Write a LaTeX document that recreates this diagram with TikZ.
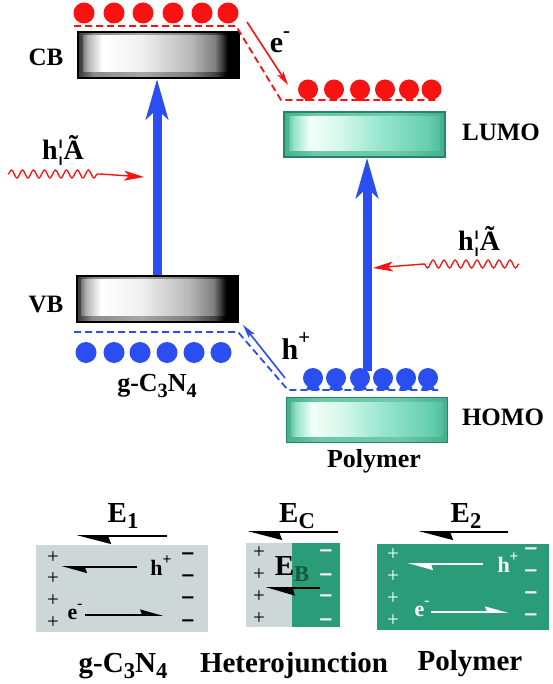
\documentclass[tikz,border=0pt]{standalone}
\usepackage{fontspec}
\usepackage{graphicx}
\setmainfont{Liberation Serif}
\newfontfamily\djv{DejaVu Sans}
\usetikzlibrary{arrows.meta,decorations.pathmorphing,calc}
\definecolor{myred}{RGB}{248,18,18}
\definecolor{myblue}{RGB}{42,78,240}
\definecolor{panelteal}{RGB}{42,157,120}
\definecolor{tealdark}{RGB}{34,135,104}
\definecolor{panelgrey}{RGB}{206,215,215}
\definecolor{ebgreen}{RGB}{20,90,65}
\definecolor{tA}{RGB}{62,170,138}
\definecolor{tB}{RGB}{150,226,200}
\definecolor{tC}{RGB}{242,255,250}
\definecolor{tD}{RGB}{215,248,236}
\definecolor{tE}{RGB}{150,230,205}
\definecolor{tF}{RGB}{100,206,172}
\definecolor{tG}{RGB}{72,182,148}
\definecolor{tO}{RGB}{70,175,142}
\definecolor{tO2}{RGB}{110,200,170}
\pgfdeclarehorizontalshading{cbshade}{100bp}{color(0bp)=(black!75); color(25bp)=(black!75); color(28bp)=(black!30); color(32.5bp)=(white); color(45bp)=(black!6); color(60bp)=(black!28); color(67.5bp)=(black!50); color(70bp)=(black!80); color(71.5bp)=(black); color(75bp)=(black); color(100bp)=(black)}
\pgfdeclarehorizontalshading{cbouter}{100bp}{color(0bp)=(black!80); color(25bp)=(black!80); color(30bp)=(black!45); color(45bp)=(black!35); color(60bp)=(black!50); color(68bp)=(black!75); color(71bp)=(black); color(75bp)=(black); color(100bp)=(black)}
\pgfdeclarehorizontalshading{tealshade}{100bp}{color(0bp)=(tA); color(25bp)=(tA); color(28bp)=(tB); color(33bp)=(tC); color(42bp)=(tD); color(55bp)=(tE); color(70bp)=(tF); color(75bp)=(tG); color(100bp)=(tG)}
\pgfdeclarehorizontalshading{tealouter}{100bp}{color(0bp)=(tO); color(25bp)=(tO); color(35bp)=(tO2); color(60bp)=(tO2); color(75bp)=(tO); color(100bp)=(tO)}
\newcommand{\lowr}[1]{\raisebox{-0.22em}{\scalebox{0.78}{#1}}}
\newcommand{\upr}[1]{\raisebox{0.5em}{\scalebox{0.7}{#1}}}
\begin{document}
\begin{tikzpicture}[x=1pt,y=-1pt,
  lbl/.style={font=\fontsize{25}{25}\selectfont\bfseries, inner sep=0pt},
  biglbl/.style={font=\fontsize{30}{30}\selectfont\bfseries, inner sep=0pt},
  botlbl/.style={font=\fontsize{29}{29}\selectfont\bfseries, inner sep=0pt},
  hvlbl/.style={font=\fontsize{28}{28}\selectfont\bfseries, inner sep=0pt},
  smlbl/.style={font=\fontsize{22}{22}\selectfont\bfseries, inner sep=0pt},
  plus/.style={font=\fontsize{21}{21}\selectfont, inner sep=0pt},
  minus/.style={font=\fontsize{18}{18}\selectfont\djv\bfseries, inner sep=0pt},
  cbbox/.style={rectangle, minimum width=161pt, minimum height=46pt, inner sep=0pt,
    shading=cbouter, draw=black, line width=2pt,
    path picture={\shade[shading=cbshade] ([shift={(5pt,-4pt)}]path picture bounding box.north west) rectangle ([shift={(-4pt,6pt)}]path picture bounding box.south east);}},
  tealbox/.style={rectangle, minimum width=161pt, minimum height=45pt, inner sep=0pt,
    shading=tealouter, draw=tealdark, line width=1.5pt,
    path picture={\shade[shading=tealshade] ([shift={(5pt,-5pt)}]path picture bounding box.north west) rectangle ([shift={(-5pt,6pt)}]path picture bounding box.south east);}},
  redball/.style={circle, fill=myred, minimum size=21pt, inner sep=0pt},
  blueball/.style={circle, fill=myblue, minimum size=21pt, inner sep=0pt},
  reddash/.style={myred, line width=1.8pt, dash pattern=on 7pt off 4pt},
  bluedash/.style={myblue, line width=1.8pt, dash pattern=on 7pt off 4pt},
  bigarrow/.style={myblue, line width=9pt, -{Stealth[length=40pt,width=22pt,inset=10pt]}},
  thinarrow/.style={line width=1.6pt, -{Stealth[length=14pt,width=7pt,inset=3pt]}},
  wave/.style={myred, line width=1.3pt, decorate, decoration={snake, segment length=11pt, amplitude=4pt}},
  hvarrow/.style={myred, line width=1.4pt, -{Stealth[length=20pt,width=10pt,inset=5pt]}},
  panel/.style={rectangle, inner sep=0pt},
  fieldarrow/.style={line width=1.6pt, -{Stealth[harpoon,length=31pt,width=16pt,inset=3pt]}},
  inarrow/.style={line width=1.6pt, -{Stealth[harpoon,length=22pt,width=12pt,inset=2pt]}}
]
\useasboundingbox[fill=white] (0,0) rectangle (552,684);

% ---------- energy levels ----------
\node[cbbox] (CB) at (158.5,55) {};
\node[cbbox] (VB) at (157,298.5) {};
\node[tealbox] (LUMO) at (364.5,134.5) {};
\node[tealbox] (HOMO) at (367,420) {};

\node[lbl] (CBl) at (46,57) {CB};
\node[lbl] (VBl) at (46,305) {VB};
\node[lbl] (LUMOl) at (501,132) {LUMO};
\node[lbl] (HOMOl) at (503,417) {HOMO};
\node[lbl, font=\fontsize{26}{26}\selectfont\bfseries] (gcn1) at (157,386) {g-C\lowr{3}N\lowr{4}};
\node[lbl, font=\fontsize{26}{26}\selectfont\bfseries] (poly1) at (374,461) {Polymer};

% dashed levels
\draw[reddash] (74,26) -- (236,26) -- (281,100) -- (436,100);
\draw[bluedash] (74,332) -- (238,332) -- (288,390) -- (438,390);

% electrons
\foreach \x [count=\i] in {84,114,143,173,202,228}
  \node[redball] (rt\i) at (\x,13) {};
\foreach \x [count=\i] in {308,334,360,385,409,431.5}{
  \fill[myred] (\x-3,95) rectangle (\x+3,101);
  \node[redball, minimum size=20pt] (rl\i) at (\x,89.5) {};
}
% transfer arrows
\coordinate (eS) at (247,22);
\coordinate (eE) at (288,85);
\draw[thinarrow, myred] (eS) -- (eE);
\node[biglbl] (elab) at (280,42) {e\upr{-}};

% excitation arrows
\draw[bigarrow] (VB.north) -- (VB.north |- CB.south);
\coordinate (a2) at (367,371);
\draw[bigarrow] (a2) -- (a2 |- LUMO.south);

% holes
\foreach \x [count=\i] in {86,114,140,167,194,221}
  \node[blueball] (bv\i) at (\x,352.5) {};
\foreach \x [count=\i] in {313,336,360,383,406,428}{
  \fill[myblue] (\x-7,390) -- (\x-4,383) -- (\x+4,383) -- (\x+7,390) -- cycle;
  \node[blueball, minimum size=20pt] (bh\i) at (\x,378) {};
}
\coordinate (hS) at (285,378);
\coordinate (hE) at (243,325);
\draw[thinarrow, myblue] (hS) -- (hE);
\node[biglbl] (hlab) at (296,346) {h\upr{+}};

% light
\coordinate (w1a) at (8,174);
\coordinate (w1b) at (100,174);
\coordinate (w1c) at (144,177);
\draw[wave] (w1a) -- (w1b);
\draw[hvarrow] (w1b) -- (w1c);
\node[hvlbl] (hv1) at (63,150) {h¦Ã};
\coordinate (w2a) at (519,264);
\coordinate (w2b) at (424,264);
\coordinate (w2c) at (373,268);
\draw[wave] (w2a) -- (w2b);
\draw[hvarrow] (w2b) -- (w2c);
\node[hvlbl] (hv2) at (479,241) {h¦Ã};

% ---------- bottom panels ----------
\node[panel, fill=panelgrey, minimum width=172pt, minimum height=87pt] (P1) at (122,588.5) {};
\node[panel, fill=panelgrey, minimum width=46pt, minimum height=84pt] (P2a) at (269,585) {};
\node[panel, fill=panelteal, minimum width=48pt, minimum height=84pt] (P2b) at (316,585) {};
\node[panel, fill=panelteal, minimum width=172pt, minimum height=86pt] (P3) at (463,587) {};

% field arrows
\coordinate (E1s) at (167,536); \coordinate (E1e) at (77,536);
\draw[fieldarrow] (E1s) -- (E1e);
\node[botlbl] (E1) at (123,516) {E\lowr{1}};
\coordinate (ECs) at (338,532); \coordinate (ECe) at (248,532);
\draw[fieldarrow] (ECs) -- (ECe);
\node[botlbl] (EC) at (297,516) {E\lowr{C}};
\coordinate (E2s) at (508,532); \coordinate (E2e) at (419,532);
\draw[fieldarrow] (E2s) -- (E2e);
\node[botlbl] (E2) at (466,516) {E\lowr{2}};

% panel 1 contents
\foreach \y [count=\i] in {558,579,601,623} \node[plus] (p1p\i) at (53,\y) {+};
\foreach \y [count=\i] in {556,578,600,623} \node[minus] (p1m\i) at (188,\y) {−};
\coordinate (h1s) at (137,567); \coordinate (h1e) at (62,567);
\draw[inarrow] (h1s) -- (h1e);
\node[smlbl] (h1) at (161,566) {h\upr{+}};
\coordinate (e1s) at (85,615); \coordinate (e1e) at (163,615);
\draw[inarrow, -{Stealth[harpoon,length=20pt,width=11pt,inset=2pt]}] (e1s) -- (e1e);
\node[smlbl] (e1) at (75,612) {e\upr{-}};

% panel 2 contents
\foreach \y [count=\i] in {553,575,597,619} \node[plus] (p2p\i) at (259,\y) {+};
\foreach \y [count=\i] in {553,577,598,622} \node[minus, white] (p2m\i) at (326,\y) {−};
\node[botlbl] (EB) at (292,569) {E\lowr{\color{ebgreen}B}};
\coordinate (EBs) at (320,588); \coordinate (EBe) at (266,588);
\draw[inarrow, -{Stealth[harpoon,length=26pt,width=15pt,inset=2pt]}] (EBs) -- (EBe);

% panel 3 contents
\foreach \y [count=\i] in {555,577,599,621} \node[plus, white] (p3p\i) at (393,\y) {+};
\foreach \y [count=\i] in {551,573,595,617} \node[minus, white] (p3m\i) at (531,\y) {−};
\coordinate (h3s) at (483,564); \coordinate (h3e) at (408,564);
\draw[inarrow, white] (h3s) -- (h3e);
\node[smlbl, white] (h3) at (508,563) {h\upr{+}};
\coordinate (e3s) at (431,612); \coordinate (e3e) at (508,612);
\draw[inarrow, white, -{Stealth[harpoon,length=20pt,width=11pt,inset=2pt]}] (e3s) -- (e3e);
\node[smlbl, white] (e3) at (422,609) {e\upr{-}};

% bottom labels
\node[botlbl] (gcn2) at (123,666) {g-C\lowr{3}N\lowr{4}};
\node[botlbl] (hj) at (294,666) {Heterojunction};
\node[botlbl] (poly2) at (470,664) {Polymer};
\end{tikzpicture}
\end{document}
